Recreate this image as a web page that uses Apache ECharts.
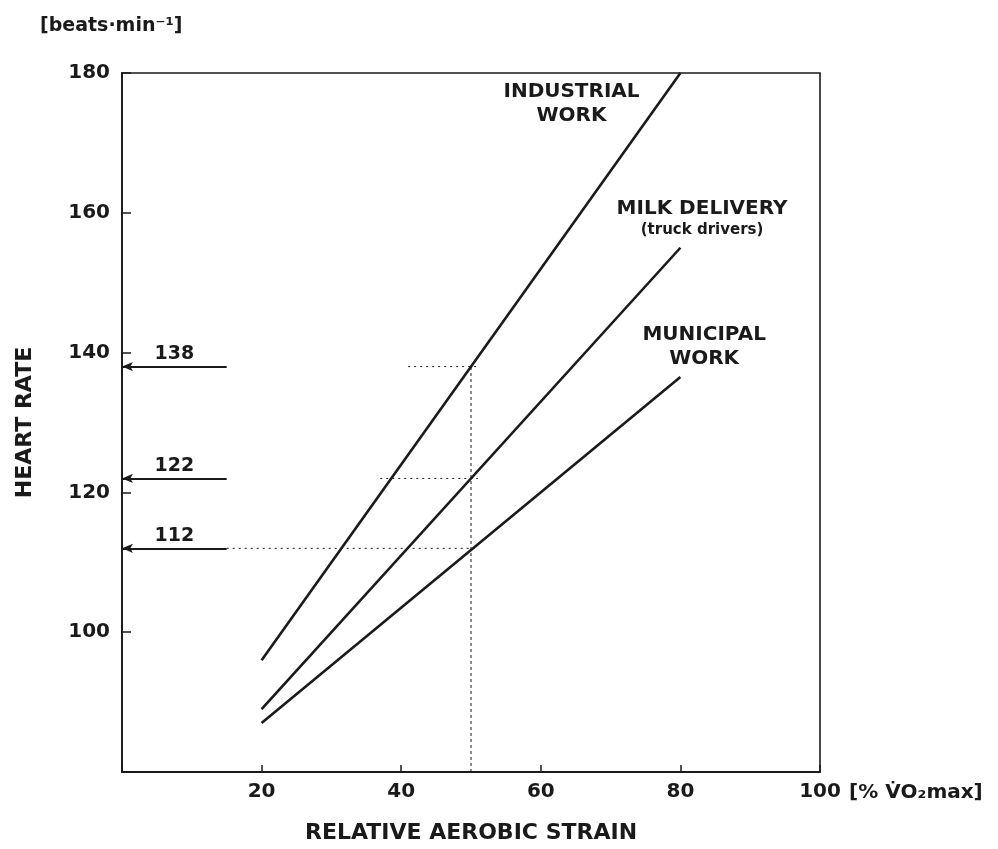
<!DOCTYPE html>
<html>
<head>
<meta charset="utf-8">
<script src="https://cdn.jsdelivr.net/npm/echarts@6/dist/echarts.min.js"></script>
<style>
  html, body { margin: 0; padding: 0; background: #fff; }
  #chart { width: 998px; height: 849px; }
</style>
</head>
<body>
<div id="chart"></div>
<script>
// relative aerobic strain (% VO2max) at the ends of each line
const strainX = [20, 80]
const industrial = [96, 180]
const milkDelivery = [89, 155]
const municipal = [87, 136.5]

const refStrain = 50
const refRates = [138, 122, 112]
const refLabels = ['138', '122', '112']
const guideStart = [41, 37, 15]   // where the dotted guides begin
const arrowStart = 15

const xTicks = [20, 40, 60, 80, 100]
const yTicks = [100, 120, 140, 160, 180]

const FONT = 'DejaVu Sans'
const INK = '#1a1a1a'

const pairs = (ys) => strainX.map((x, i) => [x, ys[i]])

const chart = echarts.init(document.getElementById('chart'))

const curveLabels = [
  { value: [64.4, 175.6], text: 'INDUSTRIAL\nWORK' },
  { value: [83.1, 159.2], text: '{a|MILK DELIVERY}\n{b|(truck drivers)}' },
  { value: [83.4, 140.9], text: 'MUNICIPAL\nWORK' }
]

const line = (name, ys) => ({
  name,
  type: 'line',
  data: pairs(ys),
  symbol: 'none',
  lineStyle: { color: INK, width: 2.6 },
  z: 3
})

const series = [
  line('Industrial work', industrial),
  line('Milk delivery', milkDelivery),
  line('Municipal work', municipal)
]

// dotted guides back from the 50 % line
refRates.forEach((r, i) => {
  series.push({
    type: 'line',
    data: [[guideStart[i], r], [refStrain + 1, r]],
    symbol: 'none',
    lineStyle: { color: INK, width: 1, type: [2, 4] },
    z: 2
  })
})

// vertical guide at 50 %
series.push({
  type: 'line',
  data: [[refStrain, 80], [refStrain, refRates[0]]],
  symbol: 'none',
  lineStyle: { color: INK, width: 1, type: [3, 3] },
  z: 2
})

// arrows to the heart-rate axis
series.push({
  type: 'line',
  data: [],
  markLine: {
    silent: true,
    symbol: ['none', 'arrow'],
    symbolSize: [7, 11],
    lineStyle: { color: INK, width: 1.8, type: 'solid' },
    label: {
      show: true,
      position: 'insideMiddleTop',
      color: INK,
      fontFamily: FONT,
      fontWeight: 'bold',
      fontSize: 19,
      distance: 3
    },
    data: refRates.map((r, i) => [
      { coord: [arrowStart, r], name: refLabels[i], label: { formatter: refLabels[i] } },
      { coord: [0, r] }
    ])
  }
})

// curve names
series.push({
  type: 'scatter',
  data: curveLabels.map(d => ({ value: d.value, label: { formatter: d.text } })),
  symbolSize: 0,
  silent: true,
  itemStyle: { opacity: 1 },
  label: {
    show: true,
    position: 'inside',
    align: 'center',
    color: INK,
    fontFamily: FONT,
    fontWeight: 'bold',
    fontSize: 20,
    lineHeight: 24,
    rich: {
      a: { fontFamily: FONT, fontWeight: 'bold', fontSize: 20, color: INK, lineHeight: 24 },
      b: { fontFamily: FONT, fontWeight: 'bold', fontSize: 15, color: INK, lineHeight: 20 }
    }
  }
})

chart.setOption({
  animation: false,
  backgroundColor: '#fff',
  textStyle: { fontFamily: FONT },
  grid: {
    left: 122,
    right: 178,
    top: 73,
    bottom: 72,
    show: true,
    borderColor: INK,
    borderWidth: 1.6,
    containLabel: false
  },
  xAxis: {
    type: 'value',
    min: 0,
    max: 100,
    interval: 20,
    name: 'RELATIVE AEROBIC STRAIN',
    nameLocation: 'middle',
    nameGap: 50,
    nameTextStyle: { color: INK, fontSize: 22, fontWeight: 'bold', fontFamily: FONT },
    axisLine: { show: true, lineStyle: { color: INK, width: 1.8 } },
    axisTick: { show: true, inside: true, length: 7, lineStyle: { color: INK, width: 1.5 } },
    axisLabel: {
      color: INK,
      fontSize: 20,
      fontWeight: 'bold',
      fontFamily: FONT,
      margin: 10,
      formatter: v => (xTicks.includes(v) ? String(v) : '')
    },
    splitLine: { show: false }
  },
  yAxis: {
    type: 'value',
    min: 80,
    max: 180,
    interval: 20,
    name: 'HEART RATE',
    nameLocation: 'middle',
    nameGap: 86,
    nameTextStyle: { color: INK, fontSize: 22, fontWeight: 'bold', fontFamily: FONT },
    axisLine: { show: true, lineStyle: { color: INK, width: 1.8 } },
    axisTick: { show: true, inside: true, length: 9, lineStyle: { color: INK, width: 1.5 } },
    axisLabel: {
      color: INK,
      fontSize: 20,
      fontWeight: 'bold',
      fontFamily: FONT,
      margin: 12,
      formatter: v => (yTicks.includes(v) ? String(v) : '')
    },
    splitLine: { show: false }
  },
  graphic: [
    {
      type: 'text',
      left: 40,
      top: 17,
      style: { text: '[beats·min⁻¹]', fill: INK, font: 'bold 19px "DejaVu Sans"' }
    },
    {
      type: 'text',
      left: 849,
      top: 783,
      style: { text: '[% V̇O₂max]', fill: INK, font: 'bold 20px "DejaVu Sans"' }
    }
  ],
  series
})
</script>
</body>
</html>
